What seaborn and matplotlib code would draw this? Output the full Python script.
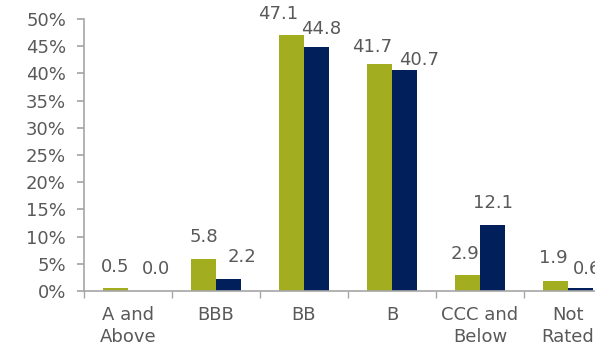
import matplotlib
matplotlib.use("Agg")
import matplotlib.pyplot as plt
import seaborn as sns
import pandas as pd
from matplotlib.ticker import FixedLocator, PercentFormatter

categories = ["A and\nAbove", "BBB", "BB", "B", "CCC and\nBelow", "Not\nRated"]
series_names = ["Series 1", "Series 2"]
series1 = [0.5, 5.8, 47.1, 41.7, 2.9, 1.9]
series2 = [0.0, 2.2, 44.8, 40.7, 12.1, 0.6]
colors = ["#A2AD1F", "#001F5B"]
text_color = "#595959"
axis_color = "#A6A6A6"

# label placement tweaks (pixels): horizontal shift and height of label centre above bar top
label_dx = [[0, 0, -13, -7, -2, -2], [15, 13, 5, 15, 0, 7]]
label_dy = [[21, 22, 21, 17, 21, 23], [22, 22, 18, 10, 22, 19]]

df = pd.DataFrame({
    "category": categories * 2,
    "series": [series_names[0]] * len(categories) + [series_names[1]] * len(categories),
    "value": series1 + series2,
})

sns.set_theme(style="white")
plt.rcParams["font.family"] = ["DejaVu Sans"]

FS = 13
DPI = 100
fig = plt.figure(figsize=(5.95, 3.47), dpi=DPI)
W, H = 595, 347
ax = fig.add_axes([84 / W, (H - 291) / H, 528 / W, (291 - 19) / H])

sns.barplot(data=df, x="category", y="value", hue="series", palette=colors,
            width=0.57, gap=0, legend=False, ax=ax, saturation=1,
            edgecolor="none", linewidth=0)

ax.set_xlim(-0.5, len(categories) - 0.5)
ax.set_ylim(0, 50)
ax.set_yticks(range(0, 51, 5))
ax.yaxis.set_major_formatter(PercentFormatter(decimals=0))
ax.set_xlabel("")
ax.set_ylabel("")

for s in ["top", "right"]:
    ax.spines[s].set_visible(False)
for s in ["left", "bottom"]:
    ax.spines[s].set_color(axis_color)
    ax.spines[s].set_linewidth(1.2)

ax.tick_params(axis="y", direction="out", length=5, color=axis_color,
               labelsize=FS, labelcolor=text_color, left=True, pad=8)
ax.tick_params(axis="x", which="major", length=0, labelsize=FS,
               labelcolor=text_color, pad=11)
for lbl in ax.get_xticklabels():
    lbl.set_linespacing(1.3)
ax.xaxis.set_minor_locator(FixedLocator([i - 0.5 for i in range(len(categories) + 1)]))
ax.tick_params(axis="x", which="minor", direction="out", length=5,
               color=axis_color, bottom=True)

px2pt = 72 / DPI
for si, cont in enumerate(ax.containers):
    for ci, patch in enumerate(cont.patches):
        h = patch.get_height()
        ax.annotate(f"{h:.1f}", (patch.get_x() + patch.get_width() / 2, h),
                    xytext=(label_dx[si][ci] * px2pt, label_dy[si][ci] * px2pt),
                    textcoords="offset points",
                    ha="center", va="center", fontsize=FS, color=text_color,
                    annotation_clip=False)

fig.savefig("out.png", dpi=DPI)
